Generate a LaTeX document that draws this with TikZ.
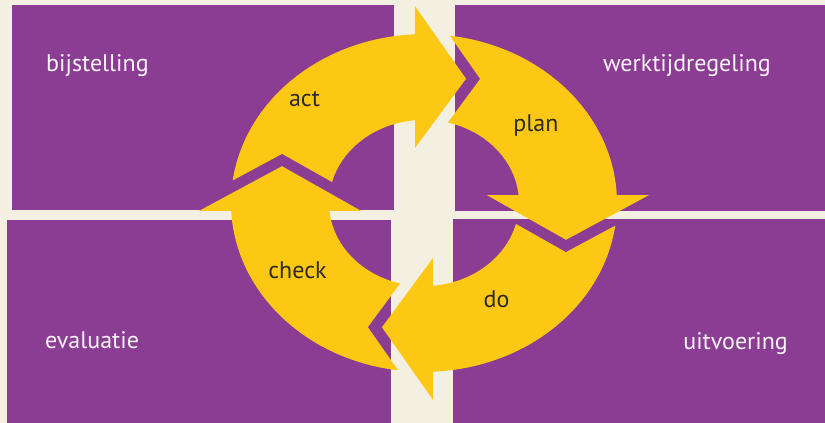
\documentclass[tikz,border=0pt]{standalone}
\usepackage{fontspec}
\setmainfont{PT Sans}

\definecolor{paars}{RGB}{139,61,148}
\definecolor{geel}{RGB}{253,200,20}
\definecolor{creme}{RGB}{243,240,225}
\definecolor{donker}{RGB}{45,42,38}
\definecolor{licht}{RGB}{250,244,250}

\begin{document}
\begin{tikzpicture}[x=1pt, y=-1pt,
    vlak/.style={fill=paars},
    pijl/.style={fill=geel},
    hoektekst/.style={text=licht, font=\fontsize{24}{28}\selectfont, inner sep=0pt},
    fase/.style={anchor=base, text=donker, font=\fontsize{24}{28}\selectfont, inner sep=0pt}]
  % achtergrond en de vier vlakken
  \fill[creme] (0,0) rectangle (825,423);
  \fill[vlak] (12,5) rectangle (394,210);
  \fill[vlak] (455,5) rectangle (825,211);
  \fill[vlak] (7,220) rectangle (391,423);
  \fill[vlak] (453,219) rectangle (825,423);

  \node[hoektekst, anchor=base west] (bijstelling) at (46,71.7) {bijstelling};
  \node[hoektekst, anchor=base east] (werktijd) at (771,71.7) {werktijdregeling};
  \node[hoektekst, anchor=base west] (evaluatie) at (45,348) {evaluatie};
  \node[hoektekst, anchor=base east] (uitvoering) at (788,349) {uitvoering};

  % cirkel van vier pijlen, telkens een kwartslag gedraaid
  \begin{scope}[shift={(424,203)}, x=1pt, y=0.875pt]
    \foreach \r in {0,-90,-180,-270}
      \fill[pijl] ({\r+172.3}:193) -- ({\r+158.4}:152.6) -- ({\r+165.4}:95)
        arc[start angle=\r+165.4, end angle=\r+95.4, radius=95]
        -- ({\r+98.1}:63.6) -- ({\r+73.5}:148.1) -- ({\r+92.3}:225.2)
        -- ({\r+92.7}:193)
        arc[start angle=\r+92.7, end angle=\r+172.3, radius=193] -- cycle;
  \end{scope}

  \node[fase] (act) at (304.5,106) {act};
  \node[fase] (plan) at (536,131) {plan};
  \node[fase] (do) at (496.5,307.7) {do};
  \node[fase] (check) at (297.5,278.3) {check};
\end{tikzpicture}
\end{document}
